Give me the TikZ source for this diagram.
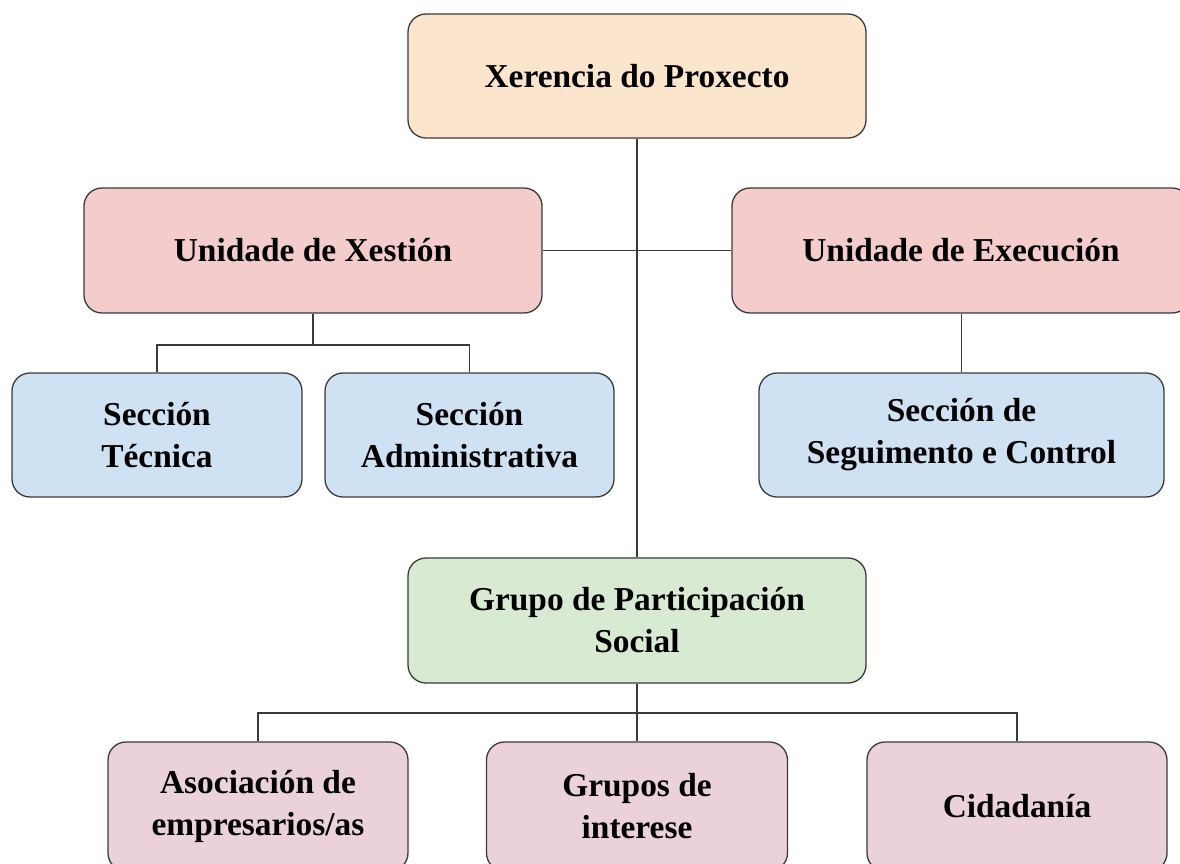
\documentclass[tikz,border=0pt]{standalone}
\usepackage{fontspec}
\setmainfont{Liberation Serif}
\usepackage{tikz}

\definecolor{peach}{HTML}{FCE5CD}
\definecolor{rose}{HTML}{F4CCCC}
\definecolor{sky}{HTML}{CFE2F3}
\definecolor{mint}{HTML}{D9EAD3}
\definecolor{mauve}{HTML}{EAD1DC}
\definecolor{edge}{HTML}{3A3A3A}

\begin{document}
\begin{tikzpicture}[x=1pt,y=-1pt,
	box/.style={draw=edge,line width=1.3pt,rounded corners=18pt,align=center,inner sep=0pt,
		font=\bfseries\fontsize{33.4}{42}\selectfont},
	link/.style={draw=edge,line width=1.4pt}]
\useasboundingbox (0,0) rectangle (1180,863);
\path (637,76) node[box,fill=peach,minimum width=458pt,minimum height=124pt] (xer) {Xerencia do Proxecto}
		(313,250.5) node[box,fill=rose,minimum width=458pt,minimum height=125pt] (xes) {Unidade de Xestión}
		(961,250.5) node[box,fill=rose,minimum width=458pt,minimum height=125pt] (exe) {Unidade de Execución}
		(157,435) node[box,fill=sky,minimum width=290pt,minimum height=124pt] (tec) {Sección\\Técnica}
		(469.5,435) node[box,fill=sky,minimum width=289pt,minimum height=124pt] (adm) {Sección\\Administrativa}
		(961.5,435) node[box,fill=sky,minimum width=405pt,minimum height=124pt] (seg) {Sección de\\Seguimento e Control}
		(637,620.5) node[box,fill=mint,minimum width=458pt,minimum height=125pt] (gps) {Grupo de Participación\\Social}
		(258,806.5) node[box,fill=mauve,minimum width=300pt,minimum height=129pt] (aso) {Asociación de\\empresarios/as}
		(637,806.5) node[box,fill=mauve,minimum width=301pt,minimum height=129pt] (gin) {Grupos de\\interese}
		(1017,806.5) node[box,fill=mauve,minimum width=300pt,minimum height=129pt] (cid) {Cidadanía}
		;
\coordinate (jxes) at (313,345);
\coordinate (jgps) at (637,713);

\draw[link] (node cs:name=xer) -- (node cs:name=gps);
\draw[link] (node cs:name=xes) -- (node cs:name=exe);
\draw[link] (node cs:name=xes) -- (jxes) -| (node cs:name=tec);
\draw[link] (jxes) -| (node cs:name=adm);
\draw[link] (node cs:name=seg) -- (seg |- exe.south);
\draw[link] (node cs:name=gps) -- (jgps) -| (node cs:name=aso);
\draw[link] (jgps) -| (node cs:name=cid);
\draw[link] (jgps) -- (node cs:name=gin);
\end{tikzpicture}
\end{document}
